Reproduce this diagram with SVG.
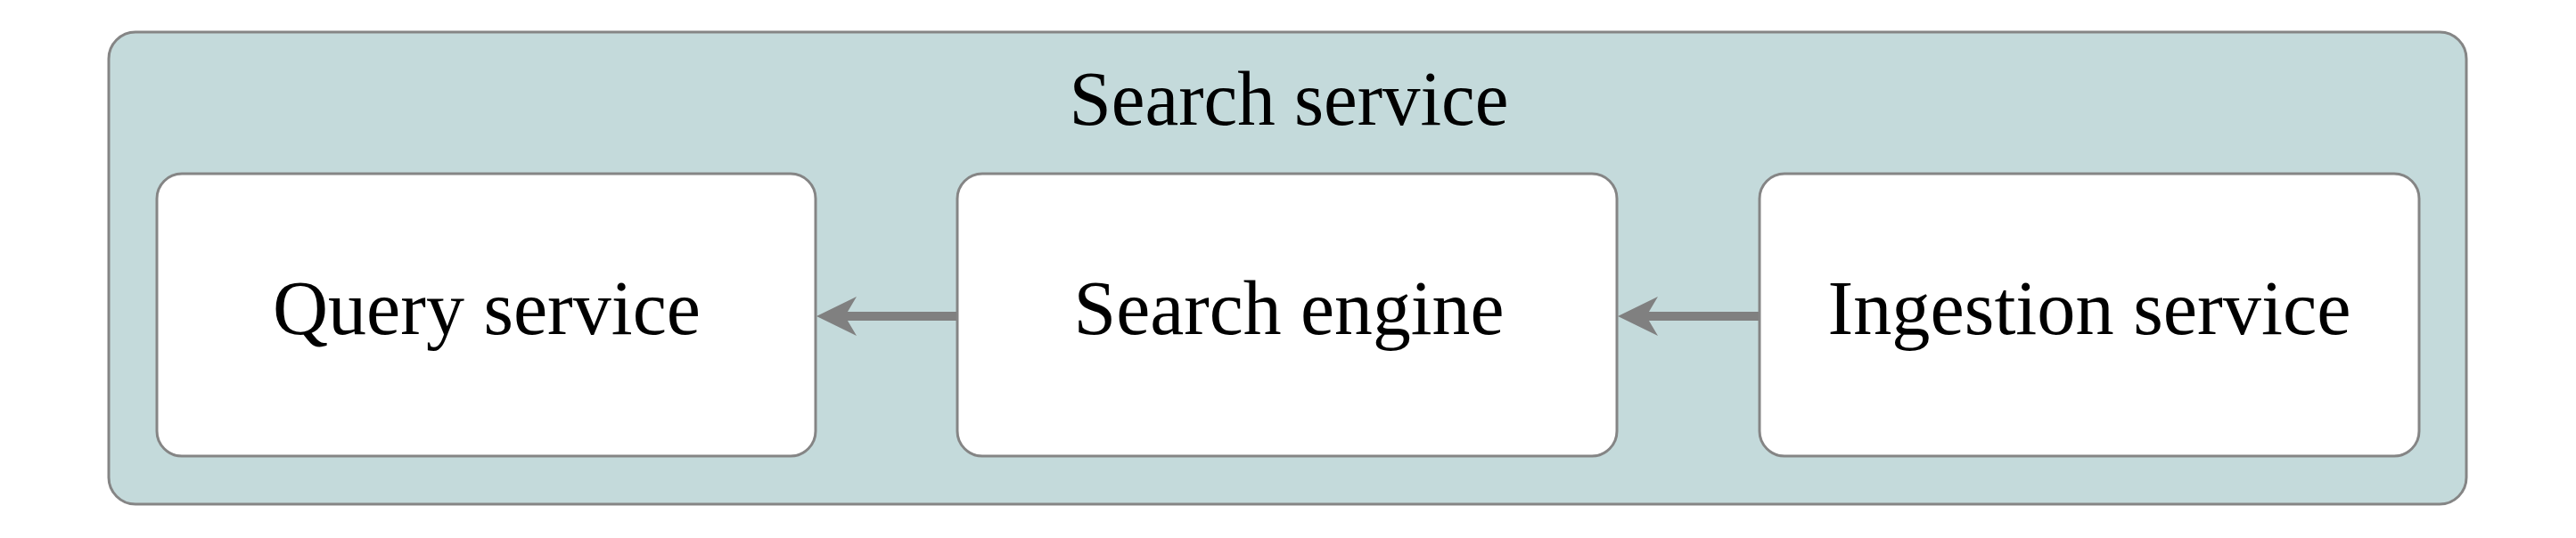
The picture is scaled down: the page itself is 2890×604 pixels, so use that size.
<svg xmlns="http://www.w3.org/2000/svg" width="2890" height="604" viewBox="0 0 2890 604">
  <style>
    .container { fill: #c4dadb; stroke: #858585; stroke-width: 3; }
    .node { fill: #ffffff; stroke: #858585; stroke-width: 3; }
    .label { font-family: "Liberation Serif", "DejaVu Serif", serif; font-size: 86px; fill: #000000; text-anchor: middle; }
    .edge { stroke: #808080; stroke-width: 10; fill: none; }
    .head { fill: #808080; stroke: none; }
  </style>
  <g id="search-service">
    <rect class="container" x="122" y="36" width="2645" height="530" rx="30" ry="30"/>
    <text class="label" x="1446" y="140" textLength="493" lengthAdjust="spacingAndGlyphs">Search service</text>
  </g>
  <g id="query-service">
    <rect class="node" x="176" y="195" width="739" height="317" rx="28" ry="28"/>
    <text class="label" x="546" y="375" textLength="480" lengthAdjust="spacingAndGlyphs">Query service</text>
  </g>
  <g id="search-engine">
    <rect class="node" x="1074" y="195" width="740" height="317" rx="28" ry="28"/>
    <text class="label" x="1446" y="375" textLength="483" lengthAdjust="spacingAndGlyphs">Search engine</text>
  </g>
  <g id="ingestion-service">
    <rect class="node" x="1974" y="195" width="740" height="317" rx="28" ry="28"/>
    <text class="label" x="2344" y="375" textLength="587" lengthAdjust="spacingAndGlyphs">Ingestion service</text>
  </g>
  <g id="connectors">
    <line class="edge" x1="1073" y1="355" x2="945" y2="355"/>
    <path class="head" d="M916,355 L961,333 L948,355 L961,377 Z"/>
    <line class="edge" x1="1973" y1="355" x2="1844" y2="355"/>
    <path class="head" d="M1815,355 L1860,333 L1847,355 L1860,377 Z"/>
  </g>
</svg>
